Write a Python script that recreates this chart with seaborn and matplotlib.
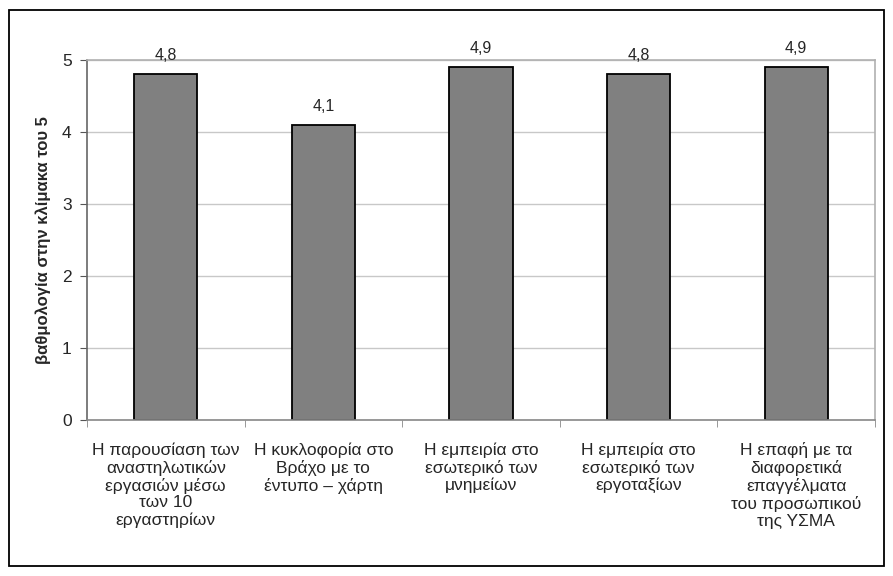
import pandas as pd
import seaborn as sns
import matplotlib.pyplot as plt
from matplotlib.patches import Rectangle

CATEGORIES = [
    'Η παρουσίαση των\nαναστηλωτικών\nεργασιών μέσω\nτων 10\nεργαστηρίων',
    'Η κυκλοφορία στο\nΒράχο με το\nέντυπο – χάρτη',
    'Η εμπειρία στο\nεσωτερικό των\nμνημείων',
    'Η εμπειρία στο\nεσωτερικό των\nεργοταξίων',
    'Η επαφή με τα\nδιαφορετικά\nεπαγγέλματα\nτου προσωπικού\nτης ΥΣΜΑ',
]
SCORES = [4.8, 4.1, 4.9, 4.8, 4.9]
Y_TICKS = [0, 1, 2, 3, 4, 5]
Y_LABEL = 'βαθμολογία στην κλίμακα του 5'

sns.set_style('white')
plt.rcParams['font.family'] = ['Liberation Sans', 'DejaVu Sans']

df = pd.DataFrame({'category': CATEGORIES, 'score': SCORES})

fig = plt.figure(figsize=(8.93, 5.76), dpi=100)
ax = fig.add_axes([87 / 893, 1 - 420 / 576, (875 - 87) / 893, (420 - 60) / 576])

sns.barplot(data=df, x='category', y='score', color='#808080', width=0.4,
            edgecolor='black', linewidth=1.3, saturation=1, ax=ax)

ax.set_ylim(0, 5)
ax.set_xlim(-0.5, len(CATEGORIES) - 0.5)
ax.set_yticks(Y_TICKS)
ax.set_yticklabels([str(t) for t in Y_TICKS], fontsize=12.5)
ax.yaxis.grid(True, color='#c8c8c8', linewidth=1)
ax.set_axisbelow(True)

ax.set_xticks(range(len(CATEGORIES)))
ax.set_xticklabels(CATEGORIES, fontsize=12.5, linespacing=1.15)
ax.tick_params(axis='x', length=0, pad=16)
ax.tick_params(axis='y', length=5, color='#555555', left=True, pad=6)
# minor ticks at category boundaries on the x axis
ax.set_xticks([i + 0.5 for i in range(-1, len(CATEGORIES))], minor=True)
ax.tick_params(axis='x', which='minor', length=5, color='#888888', bottom=True)

for side in ['top', 'right']:
    ax.spines[side].set_color('#b0b0b0')
    ax.spines[side].set_linewidth(1.2)
ax.spines['left'].set_color('#666666')
ax.spines['bottom'].set_color('#888888')
ax.spines['left'].set_linewidth(1.2)
ax.spines['bottom'].set_linewidth(1.2)

ax.set_xlabel('')
ax.set_ylabel(Y_LABEL, fontsize=12, fontweight='bold', labelpad=8)

for cont in ax.containers:
    ax.bar_label(cont, labels=[f'{v:.1f}'.replace('.', ',') for v in SCORES],
                 padding=8, fontsize=11.5)

fig.patches.append(Rectangle((9 / 893, 1 - 566 / 576), (884 - 9) / 893, (566 - 10) / 576,
                             transform=fig.transFigure, fill=False,
                             edgecolor='black', linewidth=1.3))

fig.savefig('out.png', dpi=100)
